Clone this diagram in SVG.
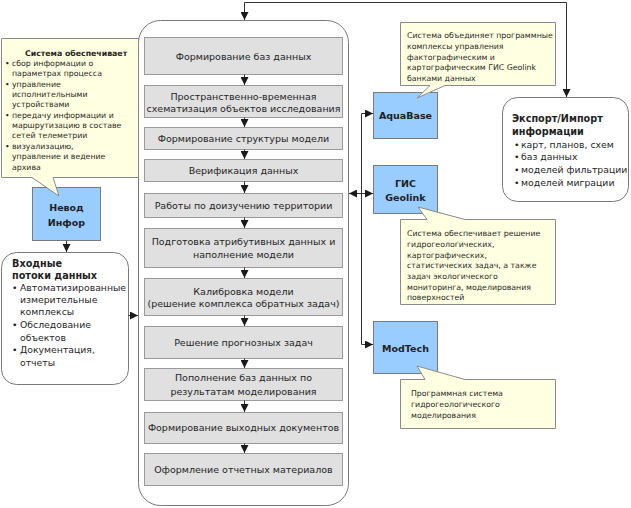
<svg xmlns="http://www.w3.org/2000/svg" width="631" height="508" viewBox="0 0 631 508">
<defs>
<marker id="ah" viewBox="0 0 8 8" refX="8" refY="4" markerWidth="8" markerHeight="8" markerUnits="userSpaceOnUse" orient="auto-start-reverse">
<path d="M0,0 L8,4 L0,8 Z" fill="#1a1a1a"/>
</marker>
<style>
text{font-family:"DejaVu Sans","Liberation Sans",sans-serif;fill:#1f1f1f}
.step{fill:#e0e0e0;stroke:#9a9a9a;stroke-width:1}
.st{font-size:9.5px;text-anchor:middle}
.blue{fill:#99ccff;stroke:#7a7a7a;stroke-width:1}
.bt{font-size:9.5px;font-weight:bold;text-anchor:middle}
.call{fill:#ffffe1;stroke:#8a8a8a;stroke-width:1}
.ct{font-size:7.8px}
.frame{fill:#ffffff;stroke:#7a7a7a;stroke-width:1}
.ht{font-size:9.7px;font-weight:bold}
.li{font-size:9.3px}
.con{fill:none;stroke:#333333;stroke-width:1}
.arr{fill:none;stroke:#333333;stroke-width:1;marker-end:url(#ah)}
</style>
</defs>
<rect width="631" height="508" fill="#ffffff"/>

<g id="main-frame">
<rect class="frame" x="138.5" y="20.5" width="210" height="485" rx="22"/>
</g>

<g id="steps">
<g id="step1"><rect class="step" x="144.5" y="37.5" width="198" height="37"/><text class="st" x="243.5" y="59.5">Формирование баз данных</text></g>
<g id="step2"><rect class="step" x="144.5" y="85.5" width="198" height="32"/><text class="st" x="243.5" y="100">Пространственно-временная</text><text class="st" x="243.5" y="112">схематизация объектов исследования</text></g>
<g id="step3"><rect class="step" x="144.5" y="127.5" width="198" height="22"/><text class="st" x="243.5" y="141.5">Формирование структуры модели</text></g>
<g id="step4"><rect class="step" x="144.5" y="159.5" width="198" height="22"/><text class="st" x="243.5" y="174">Верификация данных</text></g>
<g id="step5"><rect class="step" x="144.5" y="193.5" width="198" height="24"/><text class="st" x="243.5" y="209">Работы по доизучению территории</text></g>
<g id="step6"><rect class="step" x="144.5" y="228.5" width="198" height="39"/><text class="st" x="243.5" y="244.5">Подготовка атрибутивных данных и</text><text class="st" x="243.5" y="258">наполнение модели</text></g>
<g id="step7"><rect class="step" x="144.5" y="278.5" width="198" height="37"/><text class="st" x="243.5" y="295">Калибровка модели</text><text class="st" x="243.5" y="306.5">(решение комплекса обратных задач)</text></g>
<g id="step8"><rect class="step" x="144.5" y="326.5" width="198" height="32"/><text class="st" x="243.5" y="346">Решение прогнозных задач</text></g>
<g id="step9"><rect class="step" x="144.5" y="368.5" width="198" height="32"/><text class="st" x="243.5" y="380.5">Пополнение баз данных по</text><text class="st" x="243.5" y="395">результатам моделирования</text></g>
<g id="step10"><rect class="step" x="144.5" y="412.5" width="198" height="31"/><text class="st" x="243.5" y="431">Формирование выходных документов</text></g>
<g id="step11"><rect class="step" x="144.5" y="453.5" width="198" height="32"/><text class="st" x="243.5" y="473">Оформление отчетных материалов</text></g>
</g>

<g id="nevod">
<rect class="blue" x="32.5" y="187.5" width="68" height="53"/>
<text class="bt" x="66.5" y="210.5" font-size="10">Невод</text>
<text class="bt" x="66.5" y="225.5" font-size="10">Инфор</text>
</g>

<g id="callout-nevod">
<path class="call" d="M1.5,38.5 H138.5 V177.5 H53 L59,196 L32,177.5 H1.5 Z"/>
<text class="ct" x="25" y="56" font-weight="bold" font-size="8.6">Система обеспечивает</text>
<g>
<text class="ct" x="5" y="66">•</text><text class="ct" x="12" y="66">сбор информации о</text>
<text class="ct" x="12" y="76">параметрах процесса</text>
<text class="ct" x="5" y="87">•</text><text class="ct" x="12" y="87">управление</text>
<text class="ct" x="12" y="97">исполнительными</text>
<text class="ct" x="12" y="107">устройствами</text>
<text class="ct" x="5" y="118">•</text><text class="ct" x="12" y="118">передачу информации и</text>
<text class="ct" x="12" y="128">маршрутизацию в составе</text>
<text class="ct" x="12" y="138">сетей телеметрии</text>
<text class="ct" x="5" y="149">•</text><text class="ct" x="12" y="149">визуализацию,</text>
<text class="ct" x="12" y="159">управление и ведение</text>
<text class="ct" x="12" y="170">архива</text>
</g>
</g>

<g id="input">
<rect class="frame" x="1.5" y="252.5" width="127" height="132" rx="15"/>
<text class="ht" x="12" y="266.5">Входные</text>
<text class="ht" x="12" y="278.5">потоки данных</text>
<text class="li" x="12" y="290.5">•</text><text class="li" x="20" y="290.5">Автоматизированные</text>
<text class="li" x="20" y="303">измерительные</text>
<text class="li" x="20" y="315">комплексы</text>
<text class="li" x="12" y="328">•</text><text class="li" x="20" y="328">Обследование</text>
<text class="li" x="20" y="341">объектов</text>
<text class="li" x="12" y="353">•</text><text class="li" x="20" y="353">Документация,</text>
<text class="li" x="20" y="366">отчеты</text>
</g>

<g id="aquabase">
<rect class="blue" x="373.5" y="92.5" width="64" height="46"/>
<text class="bt" x="405.5" y="119">AquaBase</text>
</g>
<g id="callout-aquabase">
<path class="call" d="M400.5,22.5 H555.5 V85.5 H445 L417,98 L430,85.5 H400.5 Z"/>
<text class="ct" x="407" y="38">Система объединяет программные</text>
<text class="ct" x="407" y="49">комплексы управления</text>
<text class="ct" x="407" y="60">фактографическим и</text>
<text class="ct" x="407" y="70">картографическим ГИС Geolink</text>
<text class="ct" x="407" y="81">банками данных</text>
</g>

<g id="gis">
<rect class="blue" x="373.5" y="165.5" width="64" height="48"/>
<text class="bt" x="405.5" y="186.5">ГИС</text>
<text class="bt" x="405.5" y="200.5">Geolink</text>
</g>
<g id="callout-gis">
<path class="call" d="M400.5,219.5 H427 L418,207 L465,219.5 H555.5 V304.5 H400.5 Z"/>
<text class="ct" x="407" y="236">Система обеспечивает решение</text>
<text class="ct" x="407" y="247">гидрогеологических,</text>
<text class="ct" x="407" y="258">картографических,</text>
<text class="ct" x="407" y="268">статистических задач, а также</text>
<text class="ct" x="407" y="279">задач экологического</text>
<text class="ct" x="407" y="290">мониторинга, моделирования</text>
<text class="ct" x="407" y="300">поверхностей</text>
</g>

<g id="modtech">
<rect class="blue" x="373.5" y="321.5" width="64" height="52"/>
<text class="bt" x="405.5" y="351.5">ModTech</text>
</g>
<g id="callout-modtech">
<path class="call" d="M400.5,379.5 H425 L417,366 L465,379.5 H555.5 V428.5 H400.5 Z"/>
<text class="ct" x="411" y="396">Программная система</text>
<text class="ct" x="411" y="407">гидрогеологического</text>
<text class="ct" x="411" y="418">моделирования</text>
</g>

<g id="export">
<rect class="frame" x="502.5" y="97.5" width="126" height="104" rx="15"/>
<text class="ht" x="512" y="121.5">Экспорт/Импорт</text>
<text class="ht" x="512" y="134.5">информации</text>
<text class="li" x="514" y="147.5">•</text><text class="li" x="521" y="147.5">карт, планов, схем</text>
<text class="li" x="514" y="160">•</text><text class="li" x="521" y="160">баз данных</text>
<text class="li" x="514" y="172.5">•</text><text class="li" x="521" y="172.5">моделей фильтрации</text>
<text class="li" x="514" y="186">•</text><text class="li" x="521" y="186">моделей миграции</text>
</g>

<g id="connectors">
<path class="arr" d="M244.5,2.5 V20"/>
<path class="arr" d="M244.5,2.5 H566.5 V97"/>
<path class="arr" d="M244.5,74.5 V85"/>
<path class="arr" d="M244.5,117.5 V127"/>
<path class="arr" d="M244.5,149.5 V159"/>
<path class="arr" d="M244.5,181.5 V193"/>
<path class="arr" d="M244.5,217.5 V228"/>
<path class="arr" d="M244.5,267.5 V278"/>
<path class="arr" d="M244.5,315.5 V326"/>
<path class="arr" d="M244.5,358.5 V368"/>
<path class="arr" d="M244.5,400.5 V412"/>
<path class="arr" d="M244.5,443.5 V453"/>
<path class="arr" d="M66.5,240.5 V252"/>
<path class="arr" d="M128.5,315.5 H138"/>
<path class="arr" d="M361.5,193.5 H349"/>
<path class="arr" d="M361.5,193.5 H373"/>
<path class="con" d="M361.5,113.5 V344.5"/>
<path class="arr" d="M361.5,113.5 H373"/>
<path class="arr" d="M361.5,344.5 H373"/>
</g>
</svg>
